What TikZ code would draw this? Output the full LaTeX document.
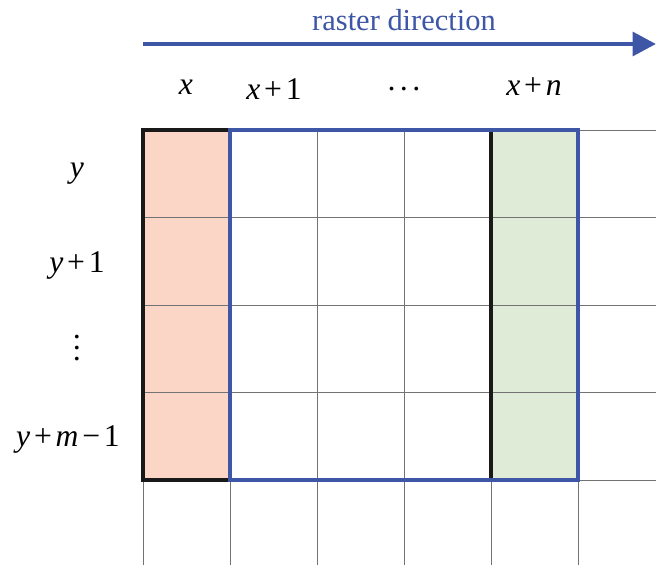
\documentclass[tikz,border=0pt]{standalone}
\usepackage{fontspec}
\setmainfont{Liberation Serif}
\usetikzlibrary{arrows.meta, positioning}
\definecolor{rasterC}{RGB}{ 61,  86, 166}
\definecolor{firstC} {RGB}{251, 213, 197}
\definecolor{lastC}  {RGB}{223, 235, 214}
\definecolor{gridC}  {RGB}{115, 115, 115}
\newcommand{\rplus}{\hspace{0.12em}+\hspace{0.12em}}
\newcommand{\rminus}{\hspace{0.12em}−\hspace{0.12em}}
\newcommand{\dotfont}{\fontsize{27}{9.4}\selectfont\lineskiplimit=-20pt\relax}
\tikzset{
  cellgrid/.style = {draw=gridC, line width=0.8pt},
  colbox/.style   = {draw=black!90, line width=3pt},
  winbox/.style   = {draw=rasterC, line width=3pt},
  rarr/.style     = {-{Triangle[length=20pt, width=20pt]}, draw=rasterC, line width=4.2pt},
  lbl/.style      = {font=\fontsize{27}{32}\selectfont, inner sep=0pt},
  dots/.style     = {font=\dotfont, inner sep=0pt, align=center},
  rlbl/.style     = {font=\fontsize{26}{30}\selectfont, text=rasterC, inner sep=0pt},
}

\begin{document}
\begin{tikzpicture}[x=0.03cm, y=-0.03cm]

\useasboundingbox (0,0) rectangle (656,565);

% ---- Column fills -----------------------------------------------------------
\fill[firstC] (143,130) rectangle (230,480);
\fill[lastC]  (491,130) rectangle (578,480);

% ---- Grid -------------------------------------------------------------------
\foreach \gx in {143, 230, 317, 404, 491, 578}
  \draw[cellgrid] (\gx,130) -- (\gx,565);
\foreach \gy in {130, 217, 305, 392, 480}
  \draw[cellgrid] (143,\gy) -- (656,\gy);

% ---- Window and columns -----------------------------------------------------
\draw[colbox] (143,130) rectangle (230,480);
\draw[colbox] (491,130) -- (491,480);
\draw[winbox] (230,130) rectangle (578,480);

% ---- Raster direction -------------------------------------------------------
\coordinate (RS) at (143,44);
\coordinate (RE) at (656,44);
\draw[rarr] (RS) -- (RE);
\node[rlbl, anchor=base] (RD) at (404,31) {raster direction};

% ---- Column labels ----------------------------------------------------------
\node[lbl, anchor=base] (CX)  at (186,95) {\textit{x}};
\node[lbl, anchor=base] (CX1) at (274,100) {\textit{x}\rplus1};
\node[dots]             (CD)  at (404,93) {·\hspace{1.6pt}·\hspace{1.6pt}·};
\node[lbl, anchor=base] (CXN) at (534,96) {\textit{x}\rplus\textit{n}};

% ---- Row labels -------------------------------------------------------------
\node[lbl, anchor=base] (RY)  at (77,177) {\textit{y}};
\node[lbl, anchor=base] (RY1) at (77,272) {\textit{y}\rplus1};
\node[dots]             (RD2) at (77,352) {·\\·\\·};
\node[lbl, anchor=base] (RYM) at (68,446) {\textit{y}\rplus\textit{m}\rminus1};

\end{tikzpicture}
\end{document}
